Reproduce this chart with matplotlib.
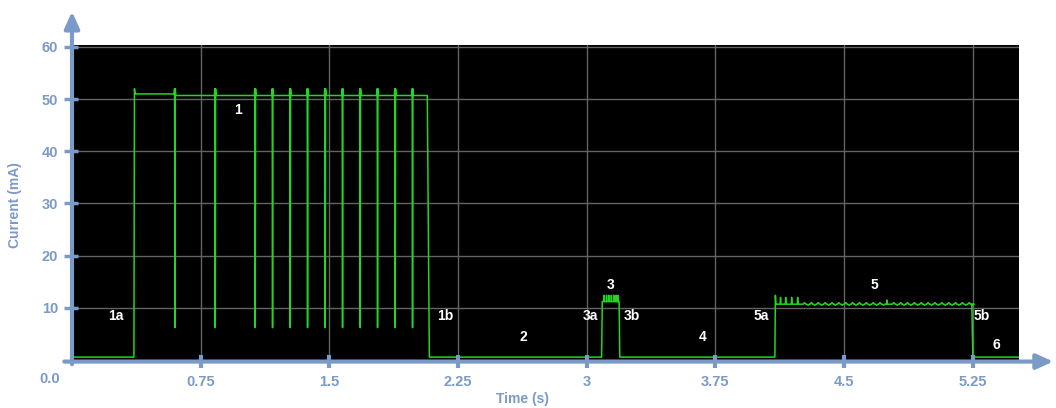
import numpy as np
import matplotlib
matplotlib.use("Agg")
import matplotlib.pyplot as plt

plt.rcParams['font.family'] = ['Liberation Sans', 'DejaVu Sans']

# --- data ---
base_mA = 0.55

# burst 1
burst1_on, burst1_off = 0.361, 2.071
burst1_level_a, burst1_level_b = 51.0, 50.7
burst1_dips = [0.598, 0.833, 1.066, 1.167, 1.270, 1.371, 1.474, 1.575,
               1.678, 1.779, 1.882, 1.983]
dip_low, dip_peak = 6.2, 52.0

# burst 3
burst3_on, burst3_off = 3.087, 3.189
burst3_level = 11.2
burst3_spikes = [3.102, 3.116, 3.130, 3.144, 3.158, 3.172, 3.182]
burst3_spike_peak = 12.4

# burst 5
burst5_on, burst5_off = 4.097, 5.245
burst5_level = 10.7
burst5_start_peak = 12.4
burst5_spikes = [4.130, 4.160, 4.195, 4.230, 4.750]
burst5_spike_peaks = [12.0, 12.0, 12.0, 12.0, 11.5]
burst5_ripple = [4.27, 4.31, 4.35, 4.39, 4.43, 4.47, 4.51, 4.55, 4.59, 4.63,
                 4.67, 4.71, 4.79, 4.83, 4.87, 4.91, 4.95, 4.99, 5.03, 5.07,
                 5.11, 5.15, 5.19, 5.23]
ripple_amp = 0.3

t_end = 5.52

x_ticks = [0.75, 1.5, 2.25, 3, 3.75, 4.5, 5.25]
x_ticklabels = ['0.75', '1.5', '2.25', '3', '3.75', '4.5', '5.25']
y_ticks = [10, 20, 30, 40, 50, 60]

region_labels = ['1a', '1', '1b', '2', '3a', '3', '3b', '4', '5a', '5', '5b', '6']
region_x = [0.256, 0.967, 2.174, 2.628, 3.019, 3.141, 3.263, 3.677, 4.015, 4.68, 5.303, 5.39]
region_y = [8.4, 48.0, 8.4, 4.4, 8.4, 14.4, 8.4, 4.4, 8.4, 14.4, 8.4, 2.9]

# --- build the trace ---
t, i = [0.0], [base_mA]
t += [burst1_on, burst1_on + 0.003, burst1_on + 0.007]
i += [base_mA, dip_peak, burst1_level_a]
level = burst1_level_a
for d in burst1_dips:
    t += [d - 0.003, d, d + 0.002, d + 0.004, d + 0.007]
    i += [level, dip_peak, dip_low, dip_peak, burst1_level_b]
    level = burst1_level_b
t += [burst1_off, burst1_off + 0.012]
i += [level, base_mA]

t += [burst3_on, burst3_on + 0.004]
i += [base_mA, burst3_level]
for s in burst3_spikes:
    t += [s - 0.001, s, s + 0.001]
    i += [burst3_level, burst3_spike_peak, burst3_level]
t += [burst3_off, burst3_off + 0.004]
i += [burst3_level, base_mA]

t += [burst5_on, burst5_on + 0.003, burst5_on + 0.006]
i += [base_mA, burst5_start_peak, burst5_level]
events = sorted([(s, p, 0.002) for s, p in zip(burst5_spikes, burst5_spike_peaks)] +
                [(r, burst5_level + ripple_amp, 0.008) for r in burst5_ripple] +
                [(r + 0.02, burst5_level - 0.2, 0.008) for r in burst5_ripple])
for s, p, w in events:
    t += [s - w, s, s + w]
    i += [burst5_level, p, burst5_level]
t += [burst5_off, burst5_off + 0.006]
i += [burst5_level, base_mA]
t.append(t_end)
i.append(base_mA)

# --- figure ---
axis_col = '#7b9ac8'
fig = plt.figure(figsize=(10.56, 4.08), dpi=100)
ax = fig.add_axes([72 / 1056, 1 - 360 / 408, (1019 - 72) / 1056, 315 / 408])
ax.set_facecolor('black')
ax.set_xlim(0, t_end)
ax.set_ylim(0, 60.38)

for xv in x_ticks:
    ax.axvline(xv, color='#646464', lw=1, zorder=1)
for yv in y_ticks:
    ax.axhline(yv, color='#646464', lw=1, zorder=1)

ax.plot(t, i, color='#22d622', lw=1.1, zorder=3)

for lab, xv, yv in zip(region_labels, region_x, region_y):
    ax.text(xv, yv, lab, color='white', fontsize=10, fontweight='bold',
            ha='center', va='center', zorder=4)

for s in ax.spines.values():
    s.set_visible(False)
ax.set_xticks(x_ticks)
ax.set_xticklabels(x_ticklabels)
ax.set_yticks(y_ticks)
ax.tick_params(axis='both', colors=axis_col, labelcolor=axis_col, labelsize=10.5)
ax.tick_params(axis='x', length=0, pad=11)
ax.tick_params(axis='y', length=0, pad=10)
for lab in ax.get_xticklabels() + ax.get_yticklabels():
    lab.set_fontweight('bold')

axis_y = -0.3
# tick marks crossing the axes
for xv in x_ticks:
    ax.plot([xv, xv], [axis_y - 1.3, axis_y + 1.3], color=axis_col, lw=3,
            clip_on=False, zorder=5, solid_capstyle='butt')
for yv in y_ticks:
    ax.plot([-0.045, 0.035], [yv, yv], color=axis_col, lw=2.5, clip_on=False, zorder=5,
            solid_capstyle='butt')

# arrowed axes
ax.annotate('', xy=(5.72, axis_y), xytext=(-0.045, axis_y), annotation_clip=False,
            arrowprops=dict(arrowstyle='-|>,head_length=1.0,head_width=0.45',
                            color=axis_col, lw=3, shrinkA=0, shrinkB=0), zorder=6)
ax.annotate('', xy=(0, 66.8), xytext=(0, -0.8), annotation_clip=False,
            arrowprops=dict(arrowstyle='-|>,head_length=1.0,head_width=0.45',
                            color=axis_col, lw=3, shrinkA=0, shrinkB=0), zorder=6)

ax.text(-0.13, -3.6, '0.0', color=axis_col, fontsize=10.5, fontweight='bold',
        ha='center', va='center', clip_on=False)
ax.set_xlabel('Time (s)', color=axis_col, fontsize=10, fontweight='bold')
ax.xaxis.set_label_coords((523 - 72) / 947, -0.10)
ax.set_ylabel('Current (mA)', color=axis_col, fontsize=10, fontweight='bold')
ax.yaxis.set_label_coords(-(72 - 22) / 947, (360 - 205) / 315)

fig.savefig('out.png', dpi=100)
